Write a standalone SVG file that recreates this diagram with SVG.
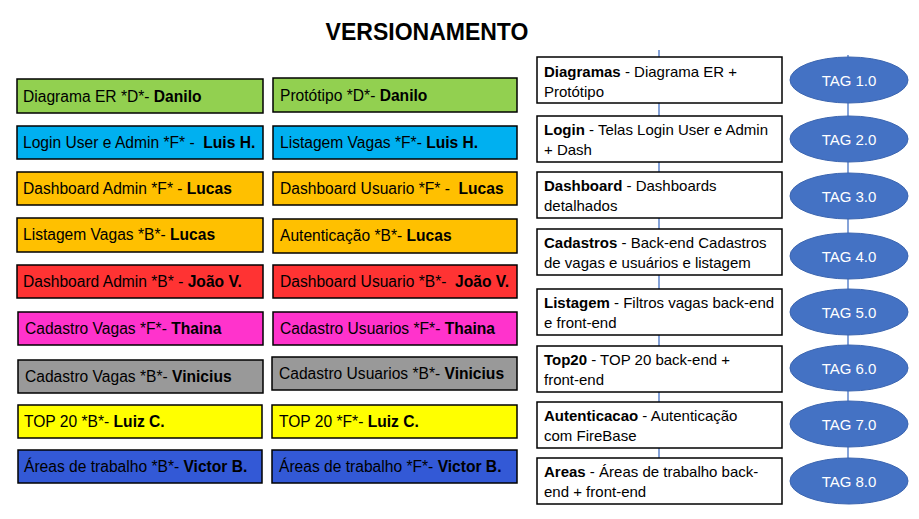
<svg xmlns="http://www.w3.org/2000/svg" width="919" height="519" viewBox="0 0 919 519">
<style>
text{font-family:"Liberation Sans",Arial,sans-serif;font-size:15px;fill:#000}
.c text{font-size:15.6px}
.b{font-weight:bold}
.title{font-size:23px;font-weight:bold;text-anchor:middle}
.box{stroke:#000;stroke-width:1.5}
.tl{fill:#fff;stroke:#000;stroke-width:1.5}
.tag{fill:#4472C4;stroke:#3B65B0;stroke-width:1}
.tagt{fill:#fff;text-anchor:middle}
.conn{stroke:#4472C4;stroke-width:1.3;fill:none}
.green{fill:#92D050}.cyan{fill:#00B0F0}.orange{fill:#FFC000}.red{fill:#FF3333}
.pink{fill:#FF33CC}.grey{fill:#999999}.yellow{fill:#FFFF00}.dblue{fill:#3359D6}
</style>
<rect width="919" height="519" fill="#fff"/>
<text class="title" x="427" y="40">VERSIONAMENTO</text>

<g id="connectors">
<line class="conn" x1="659" y1="50" x2="659" y2="458"/>
<line class="conn" x1="848" y1="55" x2="848" y2="458"/>
</g>

<g id="left-col" class="c">
<g id="l1"><rect class="box green" x="17" y="79" width="246" height="34"/><text x="23" y="102">Diagrama ER *D*- <tspan class="b">Danilo</tspan></text></g>
<g id="l2"><rect class="box cyan" x="17" y="126" width="246" height="33"/><text x="23" y="148">Login User e Admin *F* - &#160;<tspan class="b">Luis H.</tspan></text></g>
<g id="l3"><rect class="box orange" x="17" y="172" width="246" height="33"/><text x="23" y="194">Dashboard Admin *F* - <tspan class="b">Lucas</tspan></text></g>
<g id="l4"><rect class="box orange" x="17" y="218" width="246" height="34"/><text x="23" y="240">Listagem Vagas *B*- <tspan class="b">Lucas</tspan></text></g>
<g id="l5"><rect class="box red" x="17" y="265" width="246" height="33"/><text x="23" y="287">Dashboard Admin *B* - <tspan class="b">João V.</tspan></text></g>
<g id="l6"><rect class="box pink" x="18" y="312" width="245" height="33"/><text x="25" y="334">Cadastro Vagas *F*- <tspan class="b">Thaina</tspan></text></g>
<g id="l7"><rect class="box grey" x="18" y="360" width="245" height="33"/><text x="25" y="382">Cadastro Vagas *B*- <tspan class="b">Vinicius</tspan></text></g>
<g id="l8"><rect class="box yellow" x="18" y="405" width="244" height="33"/><text x="24" y="427">TOP 20 *B*- <tspan class="b">Luiz C.</tspan></text></g>
<g id="l9"><rect class="box dblue" x="18" y="450" width="244" height="33"/><text x="24" y="472">Áreas de trabalho *B*- <tspan class="b">Victor B.</tspan></text></g>
</g>

<g id="right-col" class="c">
<g id="r1"><rect class="box green" x="273" y="78" width="244" height="34"/><text x="280" y="101">Protótipo *D*- <tspan class="b">Danilo</tspan></text></g>
<g id="r2"><rect class="box cyan" x="273" y="126" width="244" height="33"/><text x="280" y="148">Listagem Vagas *F*- <tspan class="b">Luis H.</tspan></text></g>
<g id="r3"><rect class="box orange" x="273" y="172" width="244" height="33"/><text x="280" y="194">Dashboard Usuario *F* - &#160;<tspan class="b">Lucas</tspan></text></g>
<g id="r4"><rect class="box orange" x="273" y="219" width="244" height="34"/><text x="280" y="241">Autenticação *B*- <tspan class="b">Lucas</tspan></text></g>
<g id="r5"><rect class="box red" x="273" y="265" width="244" height="33"/><text x="280" y="287">Dashboard Usuario *B*- &#160;<tspan class="b">João V.</tspan></text></g>
<g id="r6"><rect class="box pink" x="273" y="312" width="244" height="33"/><text x="280" y="334">Cadastro Usuarios *F*- <tspan class="b">Thaina</tspan></text></g>
<g id="r7"><rect class="box grey" x="272" y="357" width="245" height="33"/><text x="279" y="379">Cadastro Usuarios *B*- <tspan class="b">Vinicius</tspan></text></g>
<g id="r8"><rect class="box yellow" x="272" y="405" width="245" height="33"/><text x="279" y="427">TOP 20 *F*- <tspan class="b">Luiz C.</tspan></text></g>
<g id="r9"><rect class="box dblue" x="272" y="450" width="245" height="33"/><text x="279" y="472">Áreas de trabalho *F*- <tspan class="b">Victor B.</tspan></text></g>
</g>

<g id="timeline">
<g id="t1"><rect class="tl" x="537" y="57" width="245" height="46"/><text x="544" y="77"><tspan class="b">Diagramas</tspan> - Diagrama ER +</text><text x="544" y="97">Protótipo</text></g>
<g id="t2"><rect class="tl" x="537" y="116" width="245" height="46"/><text x="544" y="135"><tspan class="b">Login</tspan> - Telas Login User e Admin</text><text x="544" y="155">+ Dash</text></g>
<g id="t3"><rect class="tl" x="537" y="172" width="245" height="46"/><text x="544" y="191"><tspan class="b">Dashboard</tspan> - Dashboards</text><text x="544" y="211">detalhados</text></g>
<g id="t4"><rect class="tl" x="537" y="229" width="245" height="46"/><text x="544" y="248"><tspan class="b">Cadastros</tspan> - Back-end Cadastros</text><text x="544" y="268">de vagas e usuários e listagem</text></g>
<g id="t5"><rect class="tl" x="537" y="289" width="245" height="46"/><text x="544" y="308"><tspan class="b">Listagem</tspan> - Filtros vagas back-end</text><text x="544" y="328">e front-end</text></g>
<g id="t6"><rect class="tl" x="537" y="346" width="245" height="46"/><text x="544" y="365"><tspan class="b">Top20</tspan> - TOP 20 back-end +</text><text x="544" y="385">front-end</text></g>
<g id="t7"><rect class="tl" x="537" y="402" width="245" height="46"/><text x="544" y="421"><tspan class="b">Autenticacao</tspan> - Autenticação</text><text x="544" y="441">com FireBase</text></g>
<g id="t8"><rect class="tl" x="537" y="458" width="245" height="46"/><text x="544" y="477"><tspan class="b">Areas</tspan> - Áreas de trabalho back-</text><text x="544" y="497">end + front-end</text></g>
</g>

<g id="tags">
<g id="tag1"><ellipse class="tag" cx="849" cy="80" rx="59" ry="23"/><text class="tagt" x="849" y="86">TAG 1.0</text></g>
<g id="tag2"><ellipse class="tag" cx="849" cy="139" rx="59" ry="23"/><text class="tagt" x="849" y="145">TAG 2.0</text></g>
<g id="tag3"><ellipse class="tag" cx="849" cy="196" rx="59" ry="23"/><text class="tagt" x="849" y="202">TAG 3.0</text></g>
<g id="tag4"><ellipse class="tag" cx="849" cy="256" rx="59" ry="23"/><text class="tagt" x="849" y="262">TAG 4.0</text></g>
<g id="tag5"><ellipse class="tag" cx="849" cy="312" rx="59" ry="23"/><text class="tagt" x="849" y="318">TAG 5.0</text></g>
<g id="tag6"><ellipse class="tag" cx="849" cy="368" rx="59" ry="23"/><text class="tagt" x="849" y="374">TAG 6.0</text></g>
<g id="tag7"><ellipse class="tag" cx="849" cy="424" rx="59" ry="23"/><text class="tagt" x="849" y="430">TAG 7.0</text></g>
<g id="tag8"><ellipse class="tag" cx="849" cy="481" rx="59" ry="23"/><text class="tagt" x="849" y="487">TAG 8.0</text></g>
</g>
</svg>
